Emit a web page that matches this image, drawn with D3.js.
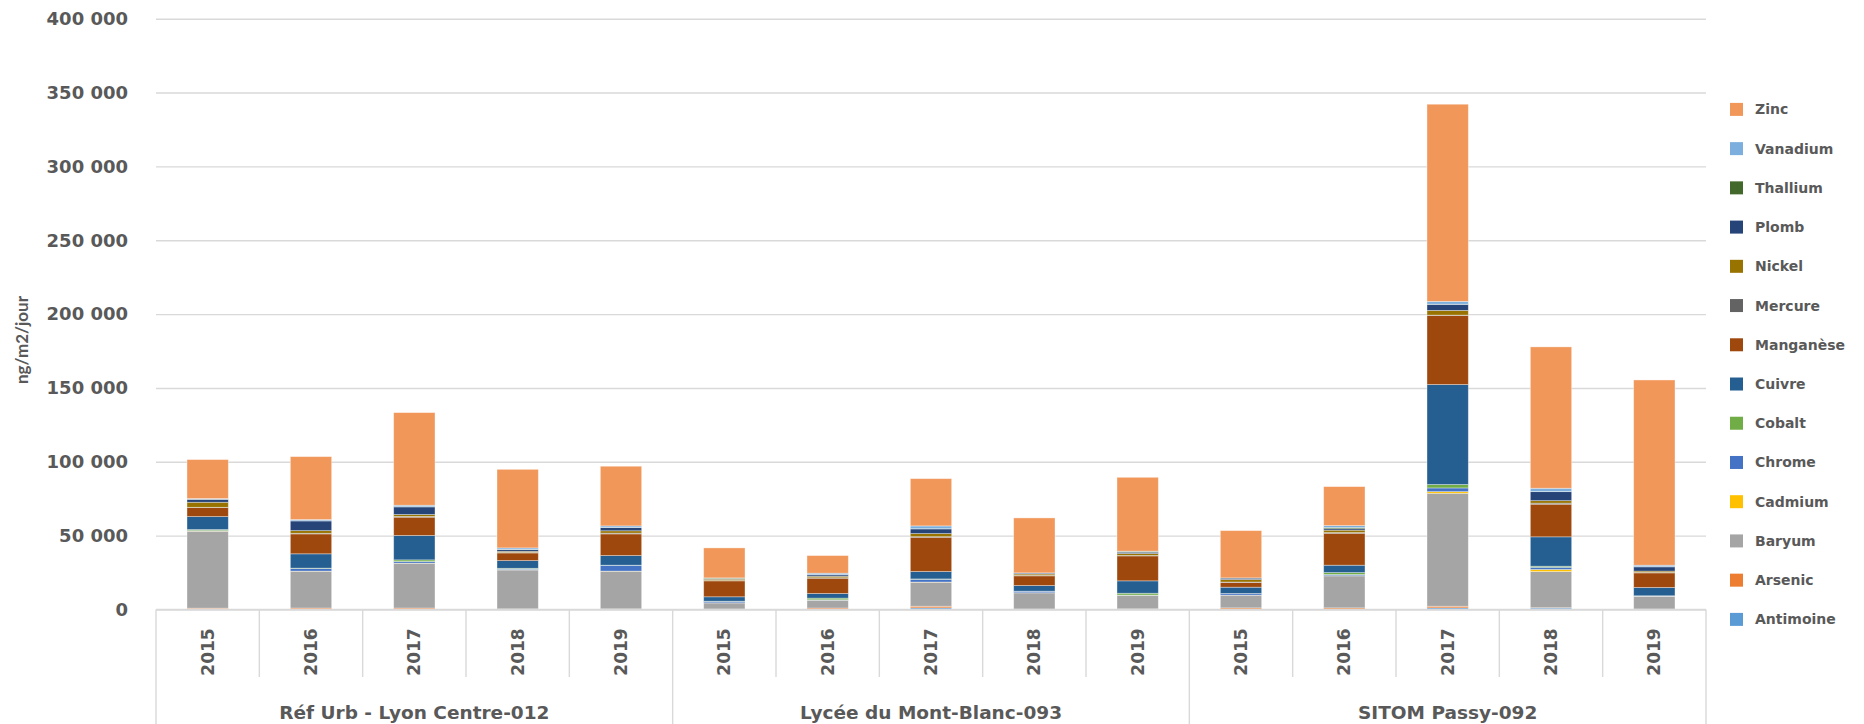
<!DOCTYPE html>
<html>
<head>
<meta charset="utf-8">
<script src="https://cdn.jsdelivr.net/npm/d3@7"></script>
<style>
  html, body { margin: 0; padding: 0; background: #ffffff; }
  svg { display: block; }
</style>
</head>
<body>
<svg id="chart" width="1864" height="724"></svg>
<script>
// Retombées de métaux (ng/m2/jour) par site et par année
const sites = ["Réf Urb - Lyon Centre-012", "Lycée du Mont-Blanc-093", "SITOM Passy-092"];
const years = ["2015", "2016", "2017", "2018", "2019"];
const metals = ["Antimoine", "Arsenic", "Baryum", "Cadmium", "Chrome", "Cobalt", "Cuivre",
                "Manganèse", "Mercure", "Nickel", "Plomb", "Thallium", "Vanadium", "Zinc"];

// one value per site/year, in the order Lyon 2015..2019, Mont-Blanc 2015..2019, Passy 2015..2019
const antimoine = [300, 200, 200, 100, 100,   100, 100, 1100, 100, 100,   200, 200, 1100, 1000, 100];
const arsenic   = [600, 800, 800, 300, 300,   200, 900, 1100, 200, 300,   900, 900, 1100, 200, 200];
const baryum    = [52100, 24900, 30300, 26400, 25500,   4200, 5300, 16300, 11000, 9300,   8600, 21700, 76500, 24500, 8700];
const cadmium   = [100, 100, 100, 100, 100,   50, 50, 100, 50, 50,   50, 100, 1100, 1400, 50];
const chrome    = [300, 1700, 1100, 500, 3900,   900, 250, 1900, 1000, 50,   1000, 800, 2500, 1500, 150];
const cobalt    = [700, 300, 1100, 500, 100,   150, 1100, 200, 50, 1200,   50, 1300, 2300, 700, 100];
const cuivre    = [8800, 9700, 16500, 5200, 6500,   3000, 3100, 5000, 3800, 8400,   4300, 5000, 67700, 19900, 5600];
const manganese = [6100, 13500, 12400, 5200, 14700,   10800, 10400, 23200, 6600, 16900,   3200, 21600, 46800, 22100, 9900];
const mercure   = [200, 400, 500, 400, 500,   200, 300, 400, 300, 300,   300, 500, 200, 700, 300];
const nickel    = [3400, 1800, 1300, 700, 1600,   900, 1000, 2100, 900, 1300,   1700, 1600, 3200, 1700, 900];
const plomb     = [2000, 6600, 5200, 1200, 2200,   300, 1000, 3200, 700, 900,   1000, 1000, 4100, 6100, 2900];
const thallium  = [100, 100, 100, 100, 100,   500, 100, 100, 50, 600,   50, 800, 100, 100, 100];
const vanadium  = [400, 800, 1000, 1000, 1000,   100, 1000, 1900, 50, 100,   50, 1300, 1900, 2200, 1000];
const zinc      = [26400, 42600, 62700, 53200, 40400,   20300, 11900, 32000, 37200, 50000,   32000, 26400, 133500, 95700, 125400];

const yTickValues = [0, 50000, 100000, 150000, 200000, 250000, 300000, 350000, 400000];
const yTitle = "ng/m2/jour";

const seriesValues = [antimoine, arsenic, baryum, cadmium, chrome, cobalt, cuivre,
                      manganese, mercure, nickel, plomb, thallium, vanadium, zinc];
const colors = ["#5B9BD5", "#ED7D31", "#A5A5A5", "#FFC000", "#4472C4", "#70AD47", "#255E91",
                "#9E480E", "#636363", "#997300", "#264478", "#43682B", "#7CAFDD", "#F1975A"];

// table of rows for d3.stack
const rows = [];
sites.forEach((site, i) => {
  years.forEach((year, j) => {
    const k = i * years.length + j;
    const row = { key: site + "|" + year, site: site, year: year };
    metals.forEach((m, s) => { row[m] = seriesValues[s][k]; });
    rows.push(row);
  });
});

const svg = d3.select("#chart");
const W = 1864, H = 724;
const plot = { left: 156, right: 1706, top: 18.7, bottom: 609.5 };
const textColor = "#595959";
const gridColor = "#D9D9D9";
const font = "'DejaVu Sans', Verdana, sans-serif";

svg.append("rect").attr("width", W).attr("height", H).attr("fill", "#ffffff");

const x = d3.scaleBand()
  .domain(rows.map(d => d.key))
  .range([plot.left, plot.right])
  .paddingInner(0.6)
  .paddingOuter(0.3);

const y = d3.scaleLinear()
  .domain([0, 400000])
  .range([plot.bottom, plot.top]);

const color = d3.scaleOrdinal().domain(metals).range(colors);

// gridlines + value labels
const fmt = v => d3.format(",")(v).replace(/,/g, " ");
const yAxis = svg.append("g")
  .attr("transform", `translate(${plot.left},0)`)
  .call(d3.axisLeft(y).tickValues(yTickValues).tickFormat(fmt)
        .tickSize(-(plot.right - plot.left)).tickPadding(28));
yAxis.select(".domain").remove();
yAxis.selectAll(".tick line").attr("stroke", gridColor).attr("stroke-width", 1.4);
yAxis.selectAll(".tick text")
  .attr("fill", textColor)
  .style("font-family", font)
  .style("font-weight", "bold")
  .style("font-size", "18px");

// axis title
svg.append("text")
  .attr("transform", "translate(21,340) rotate(-90)")
  .attr("text-anchor", "middle")
  .attr("dominant-baseline", "central")
  .attr("fill", textColor)
  .style("font-family", "Lato, 'Open Sans', sans-serif")
  .style("font-weight", "bold")
  .style("font-size", "17px")
  .text(yTitle);

// stacked bars
const stacked = d3.stack().keys(metals)(rows);
svg.append("g").selectAll("g")
  .data(stacked)
  .join("g")
  .attr("fill", d => color(d.key))
  .selectAll("rect")
  .data(d => d)
  .join("rect")
  .attr("x", d => x(d.data.key))
  .attr("width", x.bandwidth())
  .attr("y", d => y(d[1]))
  .attr("height", d => Math.max(0, y(d[0]) - y(d[1])))
  .attr("stroke", "#ffffff")
  .attr("stroke-opacity", 0.45)
  .attr("stroke-width", 0.8);

// category axis: baseline, separators, year and site labels
const step = x.step();
const axisG = svg.append("g");
axisG.append("line")
  .attr("x1", plot.left).attr("x2", plot.right)
  .attr("y1", y(0)).attr("y2", y(0))
  .attr("stroke", gridColor).attr("stroke-width", 1.4);

d3.range(rows.length + 1).forEach(i => {
  const xx = plot.left + i * step;
  const groupEdge = i % years.length === 0;
  axisG.append("line")
    .attr("x1", xx).attr("x2", xx)
    .attr("y1", y(0)).attr("y2", groupEdge ? H : 677)
    .attr("stroke", gridColor).attr("stroke-width", 1.4);
});

axisG.selectAll("text.year")
  .data(rows)
  .join("text")
  .attr("class", "year")
  .attr("transform", d => `translate(${x(d.key) + x.bandwidth() / 2},652) rotate(-90)`)
  .attr("text-anchor", "middle")
  .attr("dominant-baseline", "central")
  .attr("fill", textColor)
  .style("font-family", font)
  .style("font-weight", "bold")
  .style("font-size", "17px")
  .text(d => d.year);

axisG.selectAll("text.site")
  .data(sites)
  .join("text")
  .attr("class", "site")
  .attr("x", (d, i) => {
    const first = x(d + "|" + years[0]);
    const last = x(d + "|" + years[years.length - 1]);
    return (first + last + x.bandwidth()) / 2;
  })
  .attr("y", 712)
  .attr("text-anchor", "middle")
  .attr("dominant-baseline", "central")
  .attr("fill", textColor)
  .style("font-family", font)
  .style("font-weight", "bold")
  .style("font-size", "18.5px")
  .text(d => d);

// legend, last series on top
const legendItems = metals.slice().reverse();
const legend = svg.append("g");
const lg = legend.selectAll("g")
  .data(legendItems)
  .join("g")
  .attr("transform", (d, i) => `translate(1730,${109.4 + i * 39.23})`);
lg.append("rect")
  .attr("x", 0).attr("y", -6.5)
  .attr("width", 13).attr("height", 13)
  .attr("fill", d => color(d));
lg.append("text")
  .attr("x", 25).attr("y", 0)
  .attr("dominant-baseline", "central")
  .attr("fill", textColor)
  .style("font-family", font)
  .style("font-weight", "bold")
  .style("font-size", "14px")
  .text(d => d);
</script>
</body>
</html>
